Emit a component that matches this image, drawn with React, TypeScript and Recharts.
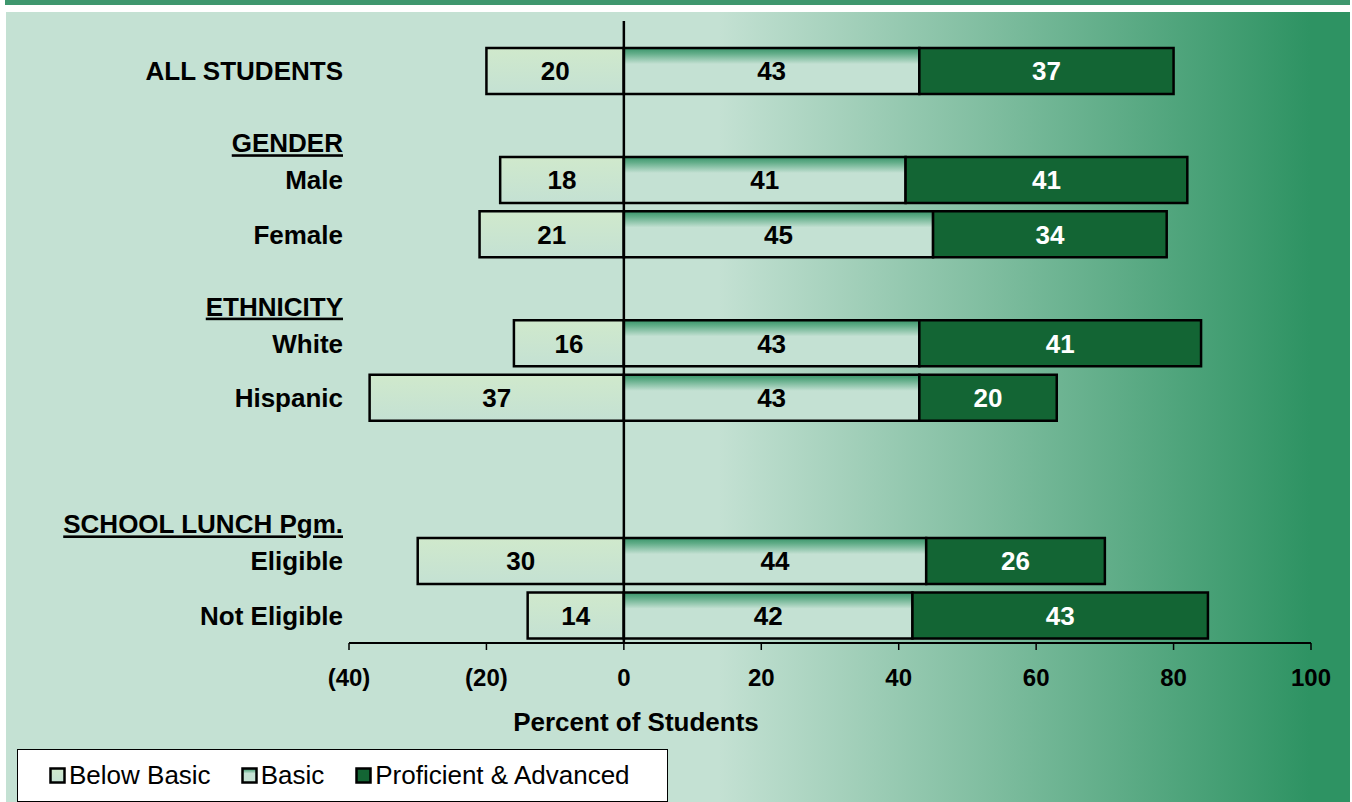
import { Bar, BarChart, LabelList, Legend, ReferenceLine, XAxis, YAxis } from 'recharts'

const categories = ['ALL STUDENTS', '', 'Male', 'Female', '', 'White', 'Hispanic', '', '', 'Eligible', 'Not Eligible']
const groupHeaders = ['', '', 'GENDER', '', '', 'ETHNICITY', '', '', '', 'SCHOOL LUNCH Pgm.', '']
const belowBasic = [20, null, 18, 21, null, 16, 37, null, null, 30, 14]
const basic = [43, null, 41, 45, null, 43, 43, null, null, 44, 42]
const proficient = [37, null, 41, 34, null, 41, 20, null, null, 26, 43]
const xTicks = [-40, -20, 0, 20, 40, 60, 80, 100]
const legendLabels = ['Below Basic', 'Basic', 'Proficient & Advanced']

const FONT = '"Liberation Sans", Arial, sans-serif'

const data = categories.map((name, i) => ({
  key: `row${i}`,
  name,
  header: groupHeaders[i],
  below: belowBasic[i] == null ? null : -(belowBasic[i] as number),
  basic: basic[i],
  proficient: proficient[i],
}))

const legendFills = ['url(#belowFill)', 'url(#basicFill)', '#136534']

function CategoryTick(props: any) {
  const { x, y, payload } = props
  const row = data[payload.index]
  if (!row) return null
  return (
    <g>
      {row.header ? (
        <text x={x} y={y - 37} dy="0.35em" textAnchor="end" fontSize={26} fontWeight="bold" fill="#000"
          style={{ textDecoration: 'underline', textDecorationThickness: '3px' }}>
          {row.header}
        </text>
      ) : null}
      <text x={x} y={y} dy="0.35em" textAnchor="end" fontSize={26} fontWeight="bold" fill="#000">
        {row.name}
      </text>
    </g>
  )
}

function LegendBox() {
  return (
    <div style={{ boxSizing: 'border-box', width: 651, height: 53, background: '#fff', border: '1.5px solid #000',
      display: 'flex', alignItems: 'center', paddingLeft: 31, fontFamily: FONT, fontSize: 26, color: '#000' }}>
      {legendLabels.map((label, i) => (
        <div key={label} style={{ display: 'flex', alignItems: 'center', marginRight: i === 0 ? 30 : 31 }}>
          <svg width={17} height={17} style={{ marginRight: 3 }}>
            <rect x={1.5} y={1.5} width={14} height={14} fill={legendFills[i]} stroke="#000" strokeWidth={2.5} />
          </svg>
          <span>{label}</span>
        </div>
      ))}
    </div>
  )
}

const absLabel = (v: any) => (v == null ? '' : Math.abs(Number(v)))

export default function App() {
  return (
    <div style={{ position: 'absolute', left: 0, top: 0, width: 1352, height: 802, background: '#fff', overflow: 'hidden', fontFamily: FONT }}>
      <div style={{ position: 'absolute', left: 5, top: 0, width: 1345, height: 5, background: '#3f976e' }} />
      <div style={{ position: 'absolute', left: 6, top: 12, width: 1344, height: 790,
        background: 'linear-gradient(to right, #c4e1d3 0%, #c4e1d3 53%, #2e9363 97%, #2e9363 100%)' }} />
      <div style={{ position: 'absolute', left: 0, top: 0 }}>
        <BarChart width={1352} height={802} data={data} layout="vertical" stackOffset="sign"
          margin={{ top: 44, right: 41, bottom: 0, left: 0 }} style={{ fontFamily: FONT }}>
          <defs>
            <linearGradient id="basicFill" x1="0" y1="0" x2="0" y2="1">
              <stop offset="0" stopColor="#39956a" />
              <stop offset="0.12" stopColor="#62ad89" />
              <stop offset="0.35" stopColor="#c4e1d3" />
              <stop offset="1" stopColor="#c4e1d3" />
            </linearGradient>
            <linearGradient id="belowFill" x1="0" y1="0" x2="0" y2="1">
              <stop offset="0" stopColor="#d0e9cc" />
              <stop offset="1" stopColor="#c4e1d3" />
            </linearGradient>
          </defs>
          <XAxis type="number" domain={[-40, 100]} ticks={xTicks} allowDataOverflow
            tickFormatter={(v: number) => (v < 0 ? `(${-v})` : `${v}`)}
            height={159} axisLine={{ stroke: '#000', strokeWidth: 2 }} tickLine={{ stroke: '#000', strokeWidth: 1.5 }}
            tickSize={7} tickMargin={19}
            tick={{ fill: '#000', fontSize: 24, fontWeight: 'bold' }}
            label={{
              content: (p: any) => (
                <text x={p.viewBox.x + 287} y={722} dy="0.35em" textAnchor="middle" fontSize={26} fontWeight="bold" fill="#000">
                  Percent of Students
                </text>
              ),
            }}
          />
          <YAxis type="category" dataKey="key" width={349} axisLine={false} tickLine={false} tickMargin={0} tickSize={6}
            interval={0} tick={<CategoryTick />} />
          <Bar dataKey="below" stackId="a" fill="url(#belowFill)" stroke="#000" strokeWidth={2.5} barSize={46} isAnimationActive={false}>
            <LabelList dataKey="below" position="center" formatter={absLabel} fill="#000" fontSize={26} fontWeight="bold" />
          </Bar>
          <Bar dataKey="basic" stackId="a" fill="url(#basicFill)" stroke="#000" strokeWidth={2.5} barSize={46} isAnimationActive={false}>
            <LabelList dataKey="basic" position="center" formatter={absLabel} fill="#000" fontSize={26} fontWeight="bold" />
          </Bar>
          <Bar dataKey="proficient" stackId="a" fill="#136534" stroke="#000" strokeWidth={2.5} barSize={46} isAnimationActive={false}>
            <LabelList dataKey="proficient" position="center" formatter={absLabel} fill="#fff" fontSize={26} fontWeight="bold" />
          </Bar>
          <ReferenceLine x={0} ifOverflow="visible"
            shape={(p: any) => (
              <line x1={p.x1} x2={p.x2} y1={Math.min(p.y1, p.y2) - 23} y2={Math.max(p.y1, p.y2)} stroke="#000" strokeWidth={2.5} />
            )} />
          <Legend layout="horizontal" verticalAlign="middle" align="center"
            wrapperStyle={{ left: 17, top: 749, width: 651, height: 53 }}
            content={() => <LegendBox />} />
        </BarChart>
      </div>
    </div>
  )
}
